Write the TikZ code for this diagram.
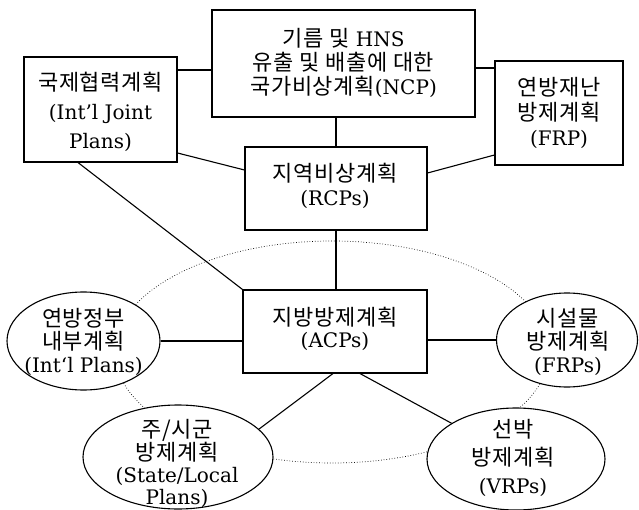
\documentclass[tikz,border=0pt]{standalone}
\usepackage{fontspec}
\usetikzlibrary{shapes.geometric}
\setmainfont{DejaVu Serif}
\newfontfamily\kr[Scale=1.1, LetterSpace=3]{Noto Sans CJK KR}
\begin{document}
\begin{tikzpicture}[x=1pt,y=-1pt,
  box/.style={draw, line width=1.1pt, fill=white, rectangle, inner sep=0pt},
  oval/.style={draw, line width=1.1pt, fill=white, ellipse, inner sep=0pt},
  txt/.style={align=center, inner sep=0pt},
  link/.style={line width=1.1pt},
  ring/.style={draw, dotted, line width=0.7pt, ellipse, inner sep=0pt}]
\useasboundingbox (0,0) rectangle (639,510);
% dotted ring
\node[ring, minimum width=434pt, minimum height=222pt] (ringnode) at (332,352) {};
% boxes
\node[box, minimum width=263pt, minimum height=107pt] (ncp) at (343.5,63.5) {};
\node[box, minimum width=153pt, minimum height=105pt] (ijp) at (100.5,109.5) {};
\node[box, minimum width=128pt, minimum height=104pt] (frp) at (559,113) {};
\node[box, minimum width=182pt, minimum height=83pt] (rcp) at (336,188.5) {};
\node[box, minimum width=184pt, minimum height=83pt] (acp) at (335,331.5) {};
% ellipses
\node[oval, minimum width=153pt, minimum height=98pt] (intp) at (83.5,341) {};
\node[oval, minimum width=141pt, minimum height=94pt] (frps) at (567,340) {};
\node[oval, minimum width=190pt, minimum height=104pt] (slp) at (178,457) {};
\node[oval, minimum width=178pt, minimum height=102pt] (vrp) at (516,459) {};
% texts
\node[txt, font=\fontsize{20}{24}\selectfont] (ncpT) at (343.5,63) {{\kr 기름 및} HNS\\{\kr 유출 및 배출에 대한}\\{\kr 국가비상계획}(NCP)};
\node[txt, font=\fontsize{20}{29}\selectfont] (ijpT) at (100.5,112) {{\kr 국제협력계획}\\(Int’l Joint\\Plans)};
\node[txt, font=\fontsize{20}{25}\selectfont] (frpT) at (559,112.5) {{\kr 연방재난}\\{\kr 방제계획}\\(FRP)};
\node[txt, font=\fontsize{20}{24}\selectfont] (rcpT) at (335,186) {{\kr 지역비상계획}\\(RCPs)};
\node[txt, font=\fontsize{20}{22}\selectfont] (acpT) at (335,329) {{\kr 지방방제계획}\\(ACPs)};
\node[txt, font=\fontsize{20}{23}\selectfont] (intpT) at (83.5,342) {{\kr 연방정부}\\{\kr 내부계획}\\(Int‘l Plans)};
\node[txt, font=\fontsize{20}{23}\selectfont] (frpsT) at (568,342) {{\kr 시설물}\\{\kr 방제계획}\\(FRPs)};
\node[txt, font=\fontsize{20}{22}\selectfont] (slpT) at (177,463.5) {{\kr 주/시군}\\{\kr 방제계획}\\(State/Local\\Plans)};
\node[txt, font=\fontsize{20}{28}\selectfont] (vrpT) at (513,458) {{\kr 선박}\\{\kr 방제계획}\\(VRPs)};
% connectors
\draw[link] ([yshift=-6.5pt]ncp.west) -- ([yshift=-6.5pt]ncp.west -| ijp.east);
\draw[link] ([yshift=-4.5pt]ncp.east) -- ([yshift=-4.5pt]ncp.east -| frp.west);
\draw[link] (rcp.north) -- (rcp.north |- ncp.south);
\draw[link] ([yshift=-43.5pt]ijp.east) -- ([yshift=18.5pt]rcp.west);
\draw[link] ([yshift=15.5pt]rcp.east) -- ([yshift=-42pt]frp.west);
\draw[link] ([xshift=-22.5pt]ijp.south) -- (acp.north west);
\draw[link] (rcp.south) -- (rcp.south |- acp.north);
\draw[link] (intp.east) -- (intp.east -| acp.west);
\draw[link] (frps.west -| acp.east) -- (frps.west);
\draw[link] ([xshift=-2pt]acp.south) -- (slp.19);
\draw[link] ([xshift=25pt]acp.south) -- (vrp.151);
\end{tikzpicture}
\end{document}
